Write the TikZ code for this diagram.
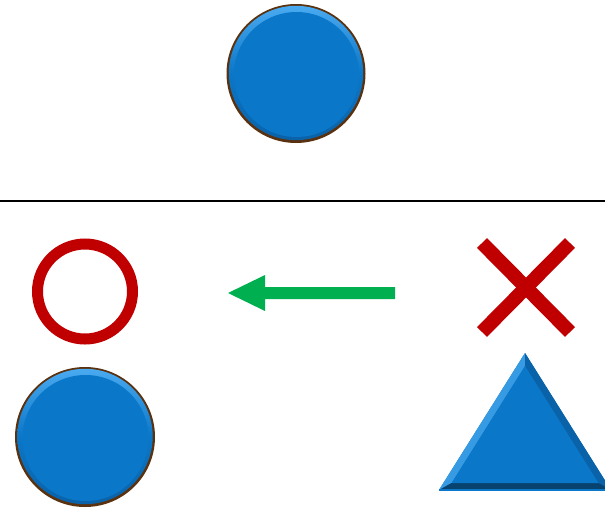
\documentclass[tikz,border=0pt]{standalone}
\usetikzlibrary{calc}
\definecolor{blueface}{HTML}{0B77C8}
\definecolor{bluelight}{HTML}{4AAAF0}
\definecolor{bluedark}{HTML}{0A62A8}
\definecolor{bluedeep}{HTML}{08426F}
\definecolor{rimbrown}{HTML}{5A3210}
\definecolor{xred}{HTML}{C00000}
\definecolor{agreen}{HTML}{00B050}
\tikzset{
  ringmark/.style={draw=xred, line width=11pt},
  crossmark/.style={draw=xred, line width=14pt},
  arrowbody/.style={fill=agreen},
  divider/.style={draw=black, line width=1.3pt},
}
\newcommand{\bevelball}[2]{%
  \fill[rimbrown] (#1) circle (#2);
  \shade[top color=bluelight, bottom color=bluedark, middle color=blueface] ($(#1)+(0,-0.5)$) circle ({#2-2.3});
  \fill[blueface] ($(#1)+(0.5,1)$) circle ({#2-7});
}
\begin{document}
\begin{tikzpicture}[x=1pt,y=-1pt]
\useasboundingbox (0,0) rectangle (605,509);
\clip (0,0) rectangle (605,509);
% top ball
\coordinate (topball) at (296,73.5);
\bevelball{topball}{69.5}
% divider
\coordinate (divL) at (0,201);
\coordinate (divR) at (605,201);
\draw[divider] (divL) -- (divR);
% ring
\node[circle, ringmark, minimum size=95pt, inner sep=0pt] (ring) at (85,291.5) {};
% arrow
\fill[arrowbody] (228,293) -- (265,275) -- (265,287) -- (395,287) -- (395,299) -- (265,299) -- (265,311) -- cycle;
% cross
\coordinate (xa) at (482,243);
\coordinate (xb) at (570,332);
\coordinate (xc) at (570,243);
\coordinate (xd) at (482,332);
\draw[crossmark] (xa) -- (xb);
\draw[crossmark] (xc) -- (xd);
% bottom ball
\coordinate (lowball) at (85,437);
\bevelball{lowball}{70}
% triangle
\coordinate (tA) at (525,353);
\coordinate (tB) at (439,490);
\coordinate (tC) at (611,490);
\coordinate (iA) at (525,366);
\coordinate (iB) at (451.6,483);
\coordinate (iC) at (598.4,483);
\fill[blueface] (tA) -- (tB) -- (tC) -- cycle;
\fill[bluelight!70!blueface] (tA) -- (tB) -- (iB) -- (iA) -- cycle;
\fill[bluedark] (tA) -- (iA) -- (iC) -- (tC) -- cycle;
\fill[bluedeep] (tB) -- (tC) -- (iC) -- (iB) -- cycle;
\fill[blueface] (iA) -- (iB) -- (iC) -- cycle;
\draw[blueface, line width=1.5pt] (tB) -- (tC);
\end{tikzpicture}
\end{document}
